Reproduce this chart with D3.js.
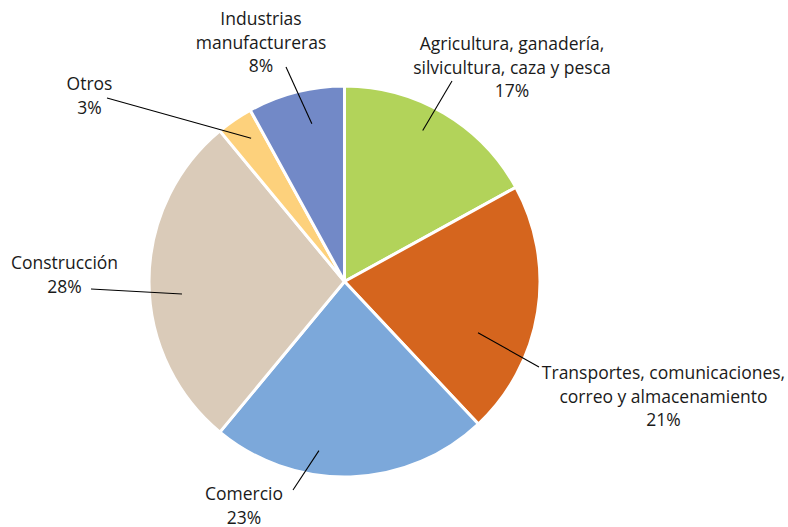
<!DOCTYPE html>
<html><head><meta charset="utf-8">
<script src="https://cdn.jsdelivr.net/npm/d3@7"></script>
<style>body{margin:0;background:#fff}svg{display:block}text{font-family:"Open Sans",sans-serif;font-size:17.5px;fill:#1a1a1a}</style>
</head><body><svg id="c" width="788" height="527"></svg>
<script>
const categories = ["Agricultura, ganadería, silvicultura, caza y pesca","Transportes, comunicaciones, correo y almacenamiento","Comercio","Construcción","Otros","Industrias manufactureras"];
const values = [17,21,23,28,3,8];
const colors = ["#B2D35A","#D5651E","#7CA8DA","#DACBB9","#FDD17C","#7289C7"];
const labelLines = [["Agricultura, ganadería,","silvicultura, caza y pesca","17%"],["Transportes, comunicaciones,","correo y almacenamiento","21%"],["Comercio","23%"],["Construcción","28%"],["Otros","3%"],["Industrias","manufactureras","8%"]];
// layout: label anchor (center x, first-line baseline y), leader outer end, leader inner end (polar: degrees, radius)
const labelPos = [[512,50],[663.5,379],[244,500],[64.5,269],[89.5,90],[261,25]];
const leaderOuter = [[452,81],[539,367],[293,490],[91,289],[107,98],[286,67]];
const leaderInner = [[27.4,170],[111,143],[188.6,171],[265.6,163],[326.9,171],[-11.7,161]];

const svg = d3.select("#c");
const cx = 344.5, cy = 281.5, R = 195.5;
const g = svg.append("g").attr("transform",`translate(${cx},${cy})`);
const pie = d3.pie().sort(null).value(d=>d);
const arc = d3.arc().innerRadius(0).outerRadius(R);
g.selectAll("path").data(pie(values)).join("path")
  .attr("d",arc).attr("fill",(d,i)=>colors[i]).attr("stroke","#fff").attr("stroke-width",3).attr("stroke-linejoin","round");

const lh = 23.5;
labelLines.forEach((lines,i)=>{
  const a = leaderInner[i][0]*Math.PI/180, r = leaderInner[i][1];
  svg.append("line").attr("x1",leaderOuter[i][0]).attr("y1",leaderOuter[i][1])
    .attr("x2",cx + r*Math.sin(a)).attr("y2",cy - r*Math.cos(a))
    .attr("stroke","#000").attr("stroke-width",1.1);
  const t = svg.append("text").attr("text-anchor","middle");
  lines.forEach((s,j)=>t.append("tspan").attr("x",labelPos[i][0]).attr("y",labelPos[i][1]+j*lh).text(s));
});
</script></body></html>
